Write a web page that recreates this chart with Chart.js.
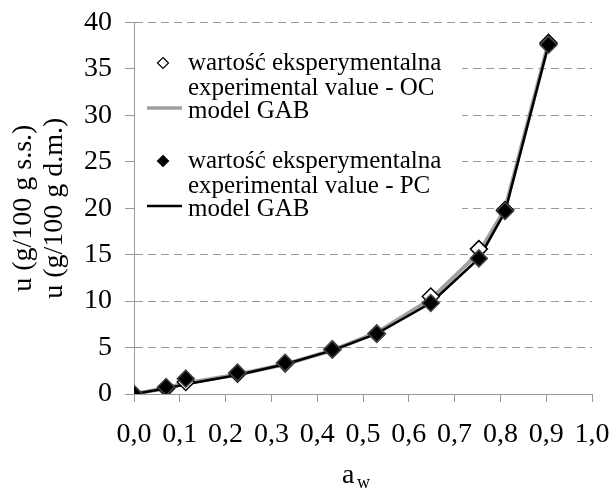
<!DOCTYPE html>
<html>
<head>
<meta charset="utf-8">
<script src="https://cdn.jsdelivr.net/npm/chart.js@4.4.0/dist/chart.umd.min.js"></script>
<style>
  html, body { margin: 0; padding: 0; background: #fff; }
  #wrap { width: 610px; height: 490px; }
</style>
</head>
<body>
<div id="wrap"><canvas id="myChart" width="610" height="490"></canvas></div>
<script>
// aktywność wody (a_w)
const aw = [0, 0.07, 0.113, 0.226, 0.33, 0.433, 0.53, 0.648, 0.753, 0.81, 0.905];
// wartości eksperymentalne - OC (otwarte romby) i PC (pełne romby)
const uOC = [0, 0.6, 1.3, 2.2, 3.3, 4.8, 6.5, 10.5, 15.6, 19.8, 37.8];
const uPC = [0, 0.75, 1.65, 2.3, 3.35, 4.8, 6.5, 9.8, 14.6, 19.7, 37.6];
// model GAB
const gabOC = [0, 0.65, 1.15, 2.1, 3.2, 4.7, 6.6, 10.2, 15.2, 19.9, 37.8];
const gabPC = [0, 0.6, 1.05, 2.05, 3.2, 4.7, 6.5, 9.8, 14.6, 19.6, 37.6];

const yTitle = ['u (g/100 g s.s.)', 'u (g/100 g d.m.)'];
const legendOC = ['wartość eksperymentalna', 'experimental value - OC', 'model GAB'];
const legendPC = ['wartość eksperymentalna', 'experimental value - PC', 'model GAB'];

const FONT = '"Liberation Serif", "Times New Roman", serif';

function pts(ys) {
  return aw.map((x, i) => ({ x: x, y: ys[i] }));
}

function diamond(ctx, cx, cy, r, fill) {
  ctx.beginPath();
  ctx.moveTo(cx, cy - r);
  ctx.lineTo(cx + r, cy);
  ctx.lineTo(cx, cy + r);
  ctx.lineTo(cx - r, cy);
  ctx.closePath();
  ctx.fillStyle = fill;
  ctx.fill();
  ctx.lineWidth = 1.2;
  ctx.strokeStyle = '#000';
  ctx.stroke();
}

// legenda w obszarze wykresu + tytuł osi X z indeksem dolnym
const legendPlugin = {
  id: 'legendaGAB',
  beforeDatasetsDraw(chart) {
    const ctx = chart.ctx;
    ctx.save();
    ctx.fillStyle = '#fff';
    ctx.fillRect(chart.chartArea.left + 1, 30, 327, 206);
    ctx.font = '25px ' + FONT;
    ctx.textBaseline = 'middle';
    ctx.textAlign = 'left';

    diamond(ctx, 163, 63, 5.5, '#fff');
    ctx.fillStyle = '#000';
    ctx.fillText(legendOC[0], 188, 63);
    ctx.fillText(legendOC[1], 188, 88);
    ctx.fillText(legendOC[2], 188, 111);
    ctx.strokeStyle = '#a0a0a0';
    ctx.lineWidth = 3.5;
    ctx.beginPath(); ctx.moveTo(147, 108); ctx.lineTo(182, 108); ctx.stroke();

    diamond(ctx, 163, 161, 5.5, '#000');
    ctx.fillStyle = '#000';
    ctx.fillText(legendPC[0], 188, 161);
    ctx.fillText(legendPC[1], 188, 186);
    ctx.fillText(legendPC[2], 188, 209);
    ctx.strokeStyle = '#000';
    ctx.lineWidth = 2.5;
    ctx.beginPath(); ctx.moveTo(147, 206); ctx.lineTo(182, 206); ctx.stroke();
    ctx.restore();
  },
  afterDraw(chart) {
    const ctx = chart.ctx;
    ctx.save();
    ctx.fillStyle = '#000';
    ctx.textBaseline = 'alphabetic';
    ctx.font = '28px ' + FONT;
    ctx.fillText('a', 342, 483);
    ctx.font = '18px ' + FONT;
    ctx.fillText('w', 357, 488);
    ctx.restore();
  }
};

const ctx = document.getElementById('myChart');
const myChart = new Chart(ctx, {
  type: 'scatter',
  data: {
    datasets: [
      {
        label: 'wartość eksperymentalna - PC',
        data: pts(uPC),
        showLine: false,
        pointStyle: 'rectRot',
        pointRadius: 8.5,
        pointBackgroundColor: '#000',
        pointBorderColor: '#444',
        pointBorderWidth: 1.5
      },
      {
        label: 'wartość eksperymentalna - OC',
        data: pts(uOC),
        showLine: false,
        pointStyle: 'rectRot',
        pointRadius: 8.5,
        pointBackgroundColor: '#fff',
        pointBorderColor: '#000',
        pointBorderWidth: 1.5
      },
      {
        label: 'model GAB - PC',
        data: pts(gabPC),
        showLine: true,
        borderColor: '#000',
        borderWidth: 2.5,
        pointRadius: 0,
        tension: 0
      },
      {
        label: 'model GAB - OC',
        data: pts(gabOC),
        showLine: true,
        borderColor: '#a0a0a0',
        borderWidth: 4,
        pointRadius: 0,
        tension: 0
      }
    ]
  },
  options: {
    responsive: false,
    animation: false,
    layout: { padding: { left: 0, right: 18, top: 22.5, bottom: 0 } },
    plugins: {
      legend: { display: false },
      tooltip: { enabled: false }
    },
    scales: {
      x: {
        type: 'linear',
        min: 0,
        max: 1,
        afterFit: s => { s.height = 96; s.paddingLeft = 0; s.paddingRight = 0; },
        ticks: {
          stepSize: 0.1,
          color: '#000',
          padding: 16,
          font: { family: FONT, size: 28 },
          maxRotation: 0,
          autoSkip: false,
          callback: v => v.toFixed(1).replace('.', ',')
        },
        grid: {
          drawOnChartArea: false,
          tickLength: 8,
          color: '#999'
        },
        border: { color: '#999', width: 1 }
      },
      y: {
        min: 0,
        max: 40,
        afterFit: s => { s.width = 134; s.paddingTop = 0; s.paddingBottom = 0; },
        ticks: {
          stepSize: 5,
          color: '#000',
          padding: 13,
          font: { family: FONT, size: 28 }
        },
        grid: {
          color: '#999',
          tickLength: 9,
          tickBorderDash: [],
          drawTicks: true
        },
        border: { color: '#999', width: 1, dash: [8, 5] },
        title: {
          display: true,
          text: yTitle,
          color: '#000',
          font: { family: FONT, size: 28, lineHeight: 1.1 },
          padding: { top: 8, bottom: 0 }
        }
      }
    }
  },
  plugins: [legendPlugin]
});
</script>
</body>
</html>
